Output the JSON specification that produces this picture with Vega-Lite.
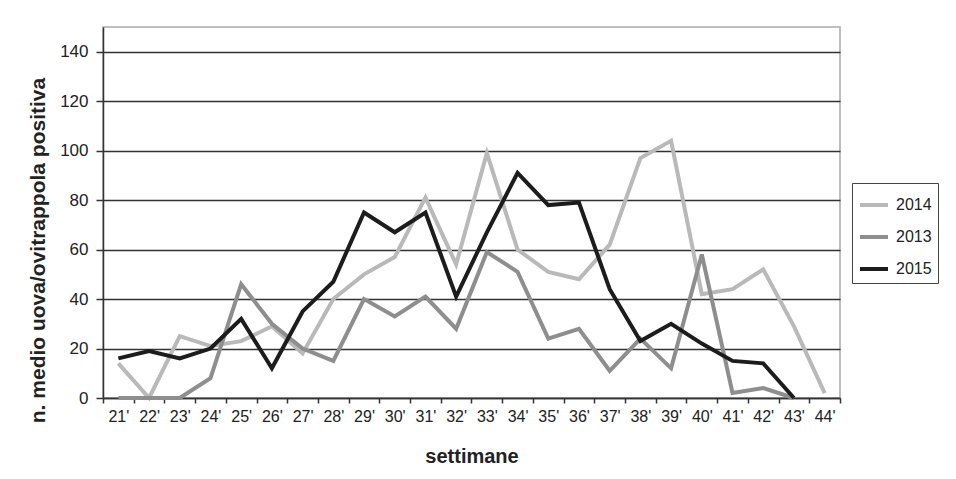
{
  "$schema": "https://vega.github.io/schema/vega-lite/v6.json",
  "autosize": {"type": "none"},
  "width": 737,
  "height": 371,
  "padding": {"left": 103, "top": 27, "right": 116, "bottom": 81},
  "background": "white",
  "config": {
    "font": "Liberation Sans",
    "view": {"stroke": "#aaaaaa", "strokeWidth": 1.5}
  },
  "data": {
    "values": [
      {"week": "21'", "year": "2014", "value": 14},
      {"week": "22'", "year": "2014", "value": 0},
      {"week": "23'", "year": "2014", "value": 25},
      {"week": "24'", "year": "2014", "value": 21},
      {"week": "25'", "year": "2014", "value": 23},
      {"week": "26'", "year": "2014", "value": 29},
      {"week": "27'", "year": "2014", "value": 18},
      {"week": "28'", "year": "2014", "value": 40},
      {"week": "29'", "year": "2014", "value": 50},
      {"week": "30'", "year": "2014", "value": 57},
      {"week": "31'", "year": "2014", "value": 81},
      {"week": "32'", "year": "2014", "value": 54},
      {"week": "33'", "year": "2014", "value": 99},
      {"week": "34'", "year": "2014", "value": 60},
      {"week": "35'", "year": "2014", "value": 51},
      {"week": "36'", "year": "2014", "value": 48},
      {"week": "37'", "year": "2014", "value": 62},
      {"week": "38'", "year": "2014", "value": 97},
      {"week": "39'", "year": "2014", "value": 104},
      {"week": "40'", "year": "2014", "value": 42},
      {"week": "41'", "year": "2014", "value": 44},
      {"week": "42'", "year": "2014", "value": 52},
      {"week": "43'", "year": "2014", "value": 29},
      {"week": "44'", "year": "2014", "value": 2},
      {"week": "21'", "year": "2013", "value": 0},
      {"week": "22'", "year": "2013", "value": 0},
      {"week": "23'", "year": "2013", "value": 0},
      {"week": "24'", "year": "2013", "value": 8},
      {"week": "25'", "year": "2013", "value": 46},
      {"week": "26'", "year": "2013", "value": 30},
      {"week": "27'", "year": "2013", "value": 20},
      {"week": "28'", "year": "2013", "value": 15},
      {"week": "29'", "year": "2013", "value": 40},
      {"week": "30'", "year": "2013", "value": 33},
      {"week": "31'", "year": "2013", "value": 41},
      {"week": "32'", "year": "2013", "value": 28},
      {"week": "33'", "year": "2013", "value": 59},
      {"week": "34'", "year": "2013", "value": 51},
      {"week": "35'", "year": "2013", "value": 24},
      {"week": "36'", "year": "2013", "value": 28},
      {"week": "37'", "year": "2013", "value": 11},
      {"week": "38'", "year": "2013", "value": 24},
      {"week": "39'", "year": "2013", "value": 12},
      {"week": "40'", "year": "2013", "value": 58},
      {"week": "41'", "year": "2013", "value": 2},
      {"week": "42'", "year": "2013", "value": 4},
      {"week": "43'", "year": "2013", "value": 0},
      {"week": "21'", "year": "2015", "value": 16},
      {"week": "22'", "year": "2015", "value": 19},
      {"week": "23'", "year": "2015", "value": 16},
      {"week": "24'", "year": "2015", "value": 20},
      {"week": "25'", "year": "2015", "value": 32},
      {"week": "26'", "year": "2015", "value": 12},
      {"week": "27'", "year": "2015", "value": 35},
      {"week": "28'", "year": "2015", "value": 47},
      {"week": "29'", "year": "2015", "value": 75},
      {"week": "30'", "year": "2015", "value": 67},
      {"week": "31'", "year": "2015", "value": 75},
      {"week": "32'", "year": "2015", "value": 41},
      {"week": "33'", "year": "2015", "value": 67},
      {"week": "34'", "year": "2015", "value": 91},
      {"week": "35'", "year": "2015", "value": 78},
      {"week": "36'", "year": "2015", "value": 79},
      {"week": "37'", "year": "2015", "value": 44},
      {"week": "38'", "year": "2015", "value": 23},
      {"week": "39'", "year": "2015", "value": 30},
      {"week": "40'", "year": "2015", "value": 22},
      {"week": "41'", "year": "2015", "value": 15},
      {"week": "42'", "year": "2015", "value": 14},
      {"week": "43'", "year": "2015", "value": 0}
    ]
  },
  "mark": {"type": "line", "strokeWidth": 4, "strokeJoin": "miter"},
  "encoding": {
    "x": {
      "field": "week",
      "type": "ordinal",
      "sort": null,
      "scale": {"type": "band", "paddingInner": 0, "paddingOuter": 0},
      "axis": {
        "title": "settimane",
        "titleFontSize": 20,
        "titleFontWeight": "bold",
        "titleColor": "#222222",
        "titlePadding": 22,
        "labelAngle": 0,
        "labelFontSize": 16,
        "labelColor": "#222222",
        "labelPadding": 5,
        "tickBand": "extent",
        "tickSize": 5,
        "tickColor": "#333333",
        "tickWidth": 1.5,
        "domainColor": "#333333",
        "domainWidth": 1.5,
        "grid": false
      }
    },
    "y": {
      "field": "value",
      "type": "quantitative",
      "scale": {"domain": [0, 150], "nice": false},
      "axis": {
        "title": "n. medio uova/ovitrappola positiva",
        "titleFontSize": 21,
        "titleFontWeight": "bold",
        "titleColor": "#222222",
        "titleX": -65,
        "titleY": 223,
        "titleAngle": -90,
        "titleAlign": "center",
        "titleBaseline": "middle",
        "values": [0, 20, 40, 60, 80, 100, 120, 140],
        "labelFontSize": 17,
        "labelColor": "#222222",
        "labelPadding": 8,
        "tickSize": 7,
        "tickColor": "#333333",
        "tickWidth": 1.5,
        "domainColor": "#333333",
        "domainWidth": 1.5,
        "grid": true,
        "gridColor": "#333333",
        "gridWidth": 1.5
      }
    },
    "color": {
      "field": "year",
      "type": "nominal",
      "scale": {"domain": ["2014", "2013", "2015"], "range": ["#b9b9b9", "#8e8e8e", "#1c1c1c"]},
      "legend": {
        "title": null,
        "orient": "none",
        "legendX": 749,
        "legendY": 156,
        "symbolType": "stroke",
        "symbolStrokeWidth": 4,
        "symbolSize": 784,
        "labelFontSize": 16,
        "labelOffset": 6,
        "labelColor": "#222222",
        "rowPadding": 8,
        "padding": 6,
        "strokeColor": "#444444",
        "fillColor": "white"
      }
    }
  }
}
